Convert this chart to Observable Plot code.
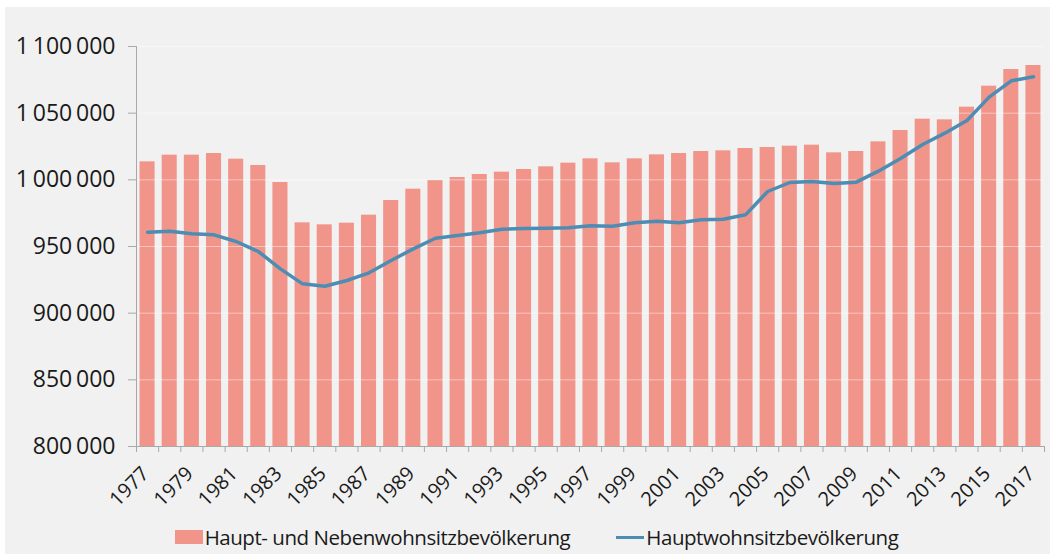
<!DOCTYPE html>
<html>
<head>
<meta charset="utf-8">
<script src="https://cdn.jsdelivr.net/npm/d3@7"></script>
<script src="https://cdn.jsdelivr.net/npm/@observablehq/plot@0.6"></script>
<style>
  html, body { margin: 0; padding: 0; background: #ffffff; }
  #panel { position: absolute; left: 5px; top: 7px; width: 1045px; height: 547px; background: #f1f1f1; overflow: hidden; font-family: "Open Sans", sans-serif; }
  #legend { display: flex; justify-content: center; align-items: center; gap: 46px; height: 30px; margin-top: 5px; padding-left: 18px; font-size: 20.5px; color: #1a1a1a; letter-spacing: -0.45px; }
  .item { display: flex; align-items: center; }
  .sw-bar { width: 28px; height: 14px; background: #f1958a; margin-right: 2px; }
  .sw-line { width: 28px; height: 3px; background: #4d8db3; margin-right: 2px; }
</style>
</head>
<body>
<div id="panel">
  <div id="chart"></div>
  <div id="legend">
    <div class="item"><div class="sw-bar"></div><span>Haupt- und Nebenwohnsitzbevölkerung</span></div>
    <div class="item"><div class="sw-line"></div><span>Hauptwohnsitzbevölkerung</span></div>
  </div>
</div>
<script>
const years = d3.range(1977, 2018);
const hauptUndNeben = [
  1013500, 1018500, 1018500, 1019750, 1015500, 1010750, 998000, 967750, 966250, 967500,
  973500, 984500, 993000, 999500, 1001750, 1004000, 1005750, 1007750, 1009750, 1012500,
  1015750, 1012750, 1015750, 1018750, 1019750, 1021250, 1021750, 1023500, 1024250, 1025250,
  1026000, 1020250, 1021250, 1028500, 1037000, 1045500, 1045000, 1054500, 1070250, 1082750,
  1085750
];
const hauptwohnsitz = [
  960700, 961500, 959500, 958750, 953750, 946250, 933250, 922000, 920200, 924500,
  930250, 939500, 948250, 956200, 958250, 960250, 963000, 963500, 963750, 964000,
  965500, 965250, 967750, 969000, 967750, 970000, 970500, 973750, 991250, 998000,
  998750, 997250, 998250, 1006500, 1016000, 1026500, 1035000, 1044500, 1062000, 1074250,
  1077250
];
const yTicks = [800000, 850000, 900000, 950000, 1000000, 1050000, 1100000];
const xTickLabels = [1977, 1979, 1981, 1983, 1985, 1987, 1989, 1991, 1993, 1995, 1997, 1999, 2001, 2003, 2005, 2007, 2009, 2011, 2013, 2015, 2017];

const barData = years.map((year, i) => ({year, value: hauptUndNeben[i]}));
const lineData = years.map((year, i) => ({year, value: hauptwohnsitz[i]}));

const xDomain = [years[0] - 0.5, years[years.length - 1] + 0.5];
const yDomain = [yTicks[0], yTicks[yTicks.length - 1]];
const boundaries = d3.range(xDomain[0], xDomain[1] + 0.01, 1);
const fmt = d => d3.format(",")(d).replace(/,/g, "\u2009");
const half = 0.34;

const chart = Plot.plot({
  width: 1045,
  height: 510,
  marginLeft: 131,
  marginRight: 6,
  marginTop: 39,
  marginBottom: 71,
  style: { background: "transparent", fontFamily: "Open Sans, sans-serif", color: "#1a1a1a", overflow: "visible" },
  x: { type: "linear", domain: xDomain, axis: null },
  y: { domain: yDomain, axis: null },
  marks: [
    Plot.rect(barData, { x1: d => d.year - half, x2: d => d.year + half, y1: yDomain[0], y2: "value", fill: "#f1958a" }),
    Plot.ruleY(yTicks.slice(1), { stroke: "#ffffff", strokeOpacity: 0.45, strokeWidth: 1 }),
    Plot.line(lineData, { x: "year", y: "value", stroke: "#4d8db3", strokeWidth: 3.5, strokeLinejoin: "round", strokeLinecap: "round" }),
    Plot.ruleX([xDomain[0]], { y1: yDomain[0], y2: yDomain[1], stroke: "#a8a8a8" }),
    Plot.ruleY([yDomain[0]], { stroke: "#a8a8a8" }),
    Plot.axisY(yTicks, { tickSize: 8, tickPadding: 13, stroke: "#a8a8a8", strokeOpacity: 1, tickFormat: fmt, fontSize: 23, fill: "#1a1a1a", label: null, style: "letter-spacing:-0.9px" }),
    Plot.axisX(boundaries, { tickSize: 6, stroke: "#a8a8a8", strokeOpacity: 1, tickFormat: () => "", label: null }),
    Plot.text(xTickLabels, { x: d => d, y: yDomain[0], text: d => String(d), rotate: -45, textAnchor: "end", lineAnchor: "middle", dx: -2, dy: 24, fontSize: 20, fill: "#1a1a1a", style: "letter-spacing:-0.4px" })
  ]
});
document.getElementById("chart").appendChild(chart);
</script>
</body>
</html>
